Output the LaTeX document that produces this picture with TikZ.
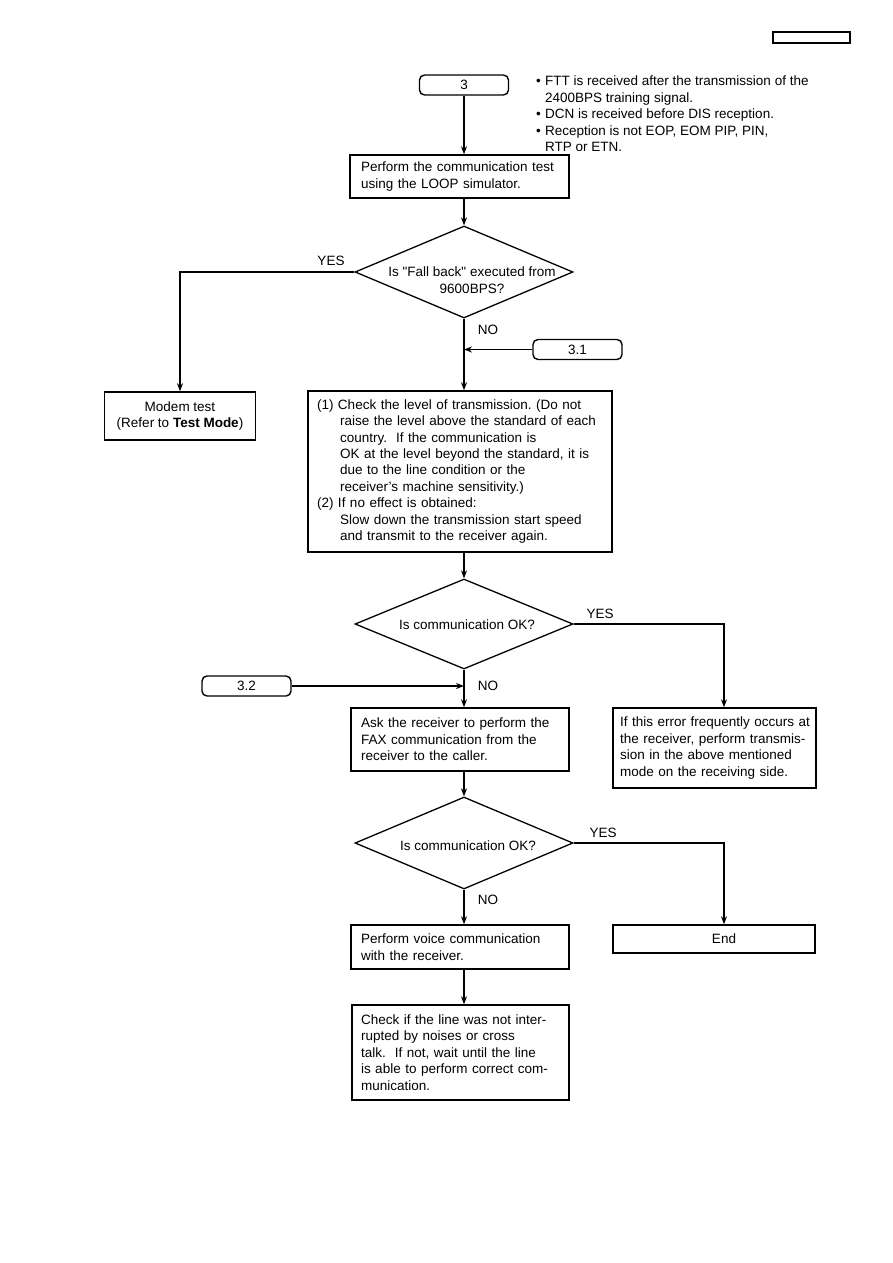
\documentclass[tikz,border=0pt]{standalone}
\usepackage{fontspec}
\setmainfont{Liberation Sans}
\usetikzlibrary{arrows.meta,shapes.geometric}
\begin{document}
\frenchspacing
\begin{tikzpicture}[x=1pt,y=-1pt,
  txt/.style={font=\fontsize{13.5}{16.4}\selectfont},
  box/.style={draw,line width=1.5pt,txt,inner ysep=0pt,align=left},
  cbox/.style={draw,line width=1.5pt,txt,inner sep=0pt,align=center},
  term/.style={draw,line width=1.4pt,rounded corners=5pt,minimum width=89pt,minimum height=20pt,inner sep=0pt,txt},
  dec/.style={draw,diamond,line width=1.3pt,minimum width=218pt,inner sep=0pt},
  arr/.style={line width=1.6pt,-{Stealth[length=8pt,width=6pt]}},
  lab/.style={txt,inner sep=0pt}]
\useasboundingbox (0,0) rectangle (893,1263);

% header box
\node[draw,line width=1.4pt,minimum width=77pt,minimum height=11pt,inner sep=0pt] (hdr) at (811.5,37.5) {};

% terminals
\node[term] (t3) at (464,85) {3};
\node[term] (t31) at (577.5,349.5) {3.1};
\node[term] (t32) at (246.5,686) {3.2};

% notes
\node[lab,anchor=north west,align=left] (notes) at (536,76) {%
\makebox[9pt][l]{\textbullet}FTT is received after the transmission of the\\
\hspace*{9pt}2400BPS training signal.\\
\makebox[9pt][l]{\textbullet}DCN is received before DIS reception.\\
\makebox[9pt][l]{\textbullet}Reception is not EOP, EOM PIP, PIN,\\
\hspace*{9pt}RTP or ETN.};

% boxes
\node[box,inner xsep=11pt,text width=197pt,minimum height=43pt] (b1) at (459.5,176.5)
  {Perform the communication test\\using the LOOP simulator.};

\node[dec,minimum height=92pt] (d1) at (464,272) {};
\node[lab,align=center] (dt1) at (472,280) {Is \textquotedbl Fall back\textquotedbl\ executed from\\9600BPS?};

\node[cbox,minimum width=151pt,minimum height=48pt] (modem) at (180,416)
  {Modem test\\(Refer to \textbf{Test Mode})};

\node[box,inner xsep=9pt,text width=286pt,minimum height=161pt] (b2) at (460,471.5)
  {(1) Check the level of transmission. (Do not\\
  \hspace*{23pt}raise the level above the standard of each\\
  \hspace*{23pt}country.\ \ If the communication is\\
  \hspace*{23pt}OK at the level beyond the standard, it is\\
  \hspace*{23pt}due to the line condition or the\\
  \hspace*{23pt}receiver's machine sensitivity.)\\
  (2) If no effect is obtained:\\
  \hspace*{23pt}Slow down the transmission start speed\\
  \hspace*{23pt}and transmit to the receiver again.};

\node[dec,minimum height=90pt] (d2) at (464,624) {};
\node[lab] (dt2) at (467,625) {Is communication OK?};

\node[box,inner xsep=10pt,text width=198pt,minimum height=63pt] (b3) at (460,739.5)
  {Ask the receiver to perform the\\FAX communication from the\\receiver to the caller.};

\node[box,inner xsep=7pt,text width=189pt,minimum height=80pt] (rbox) at (714.5,748)
  {\mbox{If this error frequently occurs at}\\the receiver, perform transmis-\\sion in the above mentioned\\mode on the receiving side.};

\node[dec,minimum height=92pt] (d3) at (464,843) {};
\node[lab] (dt3) at (468,846) {Is communication OK?};

\node[box,inner xsep=10pt,text width=198pt,minimum height=44pt] (b4) at (460,947)
  {Perform voice communication\\with the receiver.};

\node[cbox,minimum width=202pt,minimum height=28pt] (endb) at (714,939) {\hspace*{20pt}End};

\node[box,inner xsep=9pt,text width=199pt,minimum height=95pt] (b5) at (460.5,1052.5)
  {Check if the line was not inter-\\rupted by noises or cross\\talk.\ \ If not, wait until the line\\is able to perform correct com-\\munication.};

% labels
\node[lab] (yes1) at (331,261) {YES};
\node[lab] (no1) at (488,330) {NO};
\node[lab] (yes2) at (600,614) {YES};
\node[lab] (no2) at (488,686) {NO};
\node[lab] (yes3) at (603,833) {YES};
\node[lab] (no3) at (488,900) {NO};

\coordinate (rcol) at (724,0);

% connectors
\draw[arr] (t3.south) -- (t3.south |- b1.north);
\draw[arr] (d1.north |- b1.south) -- (d1.north);
\draw[arr] (d1.west) -| (modem.north);
\draw[arr] (d1.south) -- (d1.south |- b2.north);
\draw[arr] (t31.west) -- (t31.west -| d1.south);
\draw[arr] (d2.north |- b2.south) -- (d2.north);
\draw[arr] (d2.east) -| (rbox.north -| rcol);
\draw[arr] (d2.south) -- (d2.south |- b3.north);
\draw[arr] (t32.east) -- (t32.east -| d2.south);
\draw[arr] (d3.north |- b3.south) -- (d3.north);
\draw[arr] (d3.east) -| (endb.north -| rcol);
\draw[arr] (d3.south) -- (d3.south |- b4.north);
\draw[arr] (d3.south |- b4.south) -- (d3.south |- b5.north);
\end{tikzpicture}
\end{document}
